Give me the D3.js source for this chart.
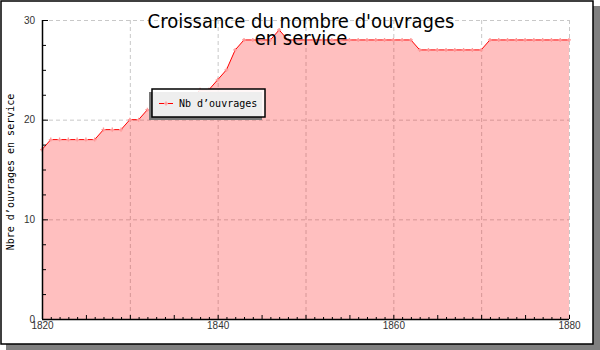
<!DOCTYPE html>
<html lang="fr">
<head>
	<meta charset="UTF-8">
	<title>Croissance du nombre d'ouvrages</title>
	<script src="https://cdn.jsdelivr.net/npm/d3@7"></script>
	<style>
		html,body{margin:0;padding:0;background:#fff;}
		svg{display:block;}
	</style>
</head>
<body>
	<svg id="svg" width="600" height="350"></svg>
	<script>
		// data
		var years = d3.range(1820, 1881);
		var ouvrages = [17,18,18,18,18,18,18,19,19,19,
			20,20,21,21,21,21,22,22,23,23,
			24,25,27,28,28,28,28,29,28,28,
			28,28,28,28,28,28,28,28,28,28,
			28,28,28,27,27,27,27,27,27,27,
			27,28,28,28,28,28,28,28,28,28,
			28];
		var xLabels = [1820,1840,1860,1880];
		var yLabels = [0,10,20,30];
		var xGrid = [1830,1840,1850,1860,1870,1880];
		var yGrid = [10,20,30];
		var titleLines = ["Croissance du nombre d'ouvrages","en service"];
		var yTitle = "Nbre d\u2019ouvrages en service";
		var legendLabel = "Nb d\u2019ouvrages";

		var data = years.map((y,i)=>({year:y, value:ouvrages[i]}));

		var svg = d3.select("#svg");

		// frame + shadow
		svg.append("rect").attr("x",6).attr("y",6).attr("width",594).attr("height",344).attr("fill","#808080");
		svg.append("rect").attr("x",1).attr("y",1).attr("width",592).attr("height",343)
			.attr("fill","#fff").attr("stroke","#000").attr("stroke-width",1.5);

		var x = d3.scaleLinear().domain([1820,1880]).range([42,569]);
		var y = d3.scaleLinear().domain([0,30]).range([319,20]);

		// grid
		var grid = svg.append("g").attr("stroke","#c8c8c8").attr("stroke-dasharray","4,3");
		grid.selectAll(".gx").data(xGrid).enter().append("line")
			.attr("x1",d=>x(d)+0.5).attr("x2",d=>x(d)+0.5).attr("y1",y(30)).attr("y2",y(0));
		grid.selectAll(".gy").data(yGrid).enter().append("line")
			.attr("x1",x(1820)).attr("x2",x(1880)).attr("y1",d=>y(d)+0.5).attr("y2",d=>y(d)+0.5);

		// area + line
		var area = d3.area().x(d=>x(d.year)).y0(y(0)).y1(d=>y(d.value));
		var line = d3.line().x(d=>x(d.year)).y(d=>y(d.value));
		svg.append("path").datum(data).attr("d",area).attr("fill","red").attr("fill-opacity",0.25);
		svg.append("path").datum(data).attr("d",line).attr("fill","none").attr("stroke","red").attr("stroke-width",1);
		var sym = d3.symbol().type(d3.symbolCross).size(9);
		svg.append("g").selectAll("path").data(data).enter().append("path")
			.attr("transform",d=>"translate("+x(d.year)+","+y(d.value)+")")
			.attr("d",sym).attr("fill","#ff9a9a");

		// y axis
		var yMinor = d3.range(0,30.1,2.5);
		var yAx = svg.append("g").attr("transform","translate("+x(1820)+",0)")
			.call(d3.axisRight(y).tickValues(yMinor).tickSize(4).tickFormat(""));
		yAx.selectAll(".tick line").filter(d=>d%10===0).attr("x2",6);
		yAx.select(".domain").attr("d","M0.5,"+y(30)+"V"+y(0)).attr("stroke-width",1.5);
		var yLab = svg.append("g").attr("transform","translate("+x(1820)+",0)")
			.call(d3.axisLeft(y).tickValues(yLabels).tickSize(0).tickPadding(7));
		yLab.select(".domain").remove();
		yLab.selectAll("text").attr("font-family","Liberation Sans, sans-serif").attr("font-size",10).attr("fill","#333");

		// x axis
		var xAx = svg.append("g").attr("transform","translate(0,"+y(0)+")")
			.call(d3.axisTop(x).tickValues(years).tickSize(2).tickFormat(""));
		xAx.selectAll(".tick line").filter(d=>d%5===0).attr("y2",-4);
		xAx.select(".domain").attr("d","M"+x(1820)+",0.5H"+x(1880)).attr("stroke-width",1.5);
		var xLab = svg.append("g").attr("transform","translate(0,"+y(0)+")")
			.call(d3.axisBottom(x).tickValues(xLabels).tickSize(0).tickPadding(3).tickFormat(d3.format("d")));
		xLab.select(".domain").remove();
		xLab.selectAll("text").attr("font-family","Liberation Sans, sans-serif").attr("font-size",10).attr("fill","#333");

		// y title
		svg.append("text").attr("transform","translate(14,172) rotate(-90)")
			.attr("text-anchor","middle").attr("font-family","DejaVu Sans Mono, monospace")
			.attr("font-size",10).text(yTitle);

		// title
		svg.append("g").selectAll("text").data(titleLines).enter().append("text")
			.attr("x",301).attr("y",(d,i)=>28+i*17)
			.attr("text-anchor","middle").attr("font-family","DejaVu Sans Condensed, DejaVu Sans, sans-serif")
			.attr("font-stretch","condensed").attr("font-size",20).text(d=>d);

		// legend
		var lg = svg.append("g").attr("transform","translate(152,89)");
		lg.append("rect").attr("x",-3).attr("y",3).attr("width",113).attr("height",28).attr("fill","#777");
		lg.append("rect").attr("x",0).attr("y",0).attr("width",113).attr("height",28)
			.attr("fill","#fff").attr("fill-opacity",0.88).attr("stroke","#000").attr("stroke-width",1.5);
		lg.append("line").attr("x1",7).attr("x2",21).attr("y1",14.5).attr("y2",14.5).attr("stroke","red");
		lg.append("path").attr("transform","translate(14,14.5)").attr("d",sym).attr("fill","#ff9a9a");
		lg.append("text").attr("x",27).attr("y",18).attr("font-family","DejaVu Sans Mono, monospace")
			.attr("font-size",10).text(legendLabel);
	</script>
</body>
</html>
